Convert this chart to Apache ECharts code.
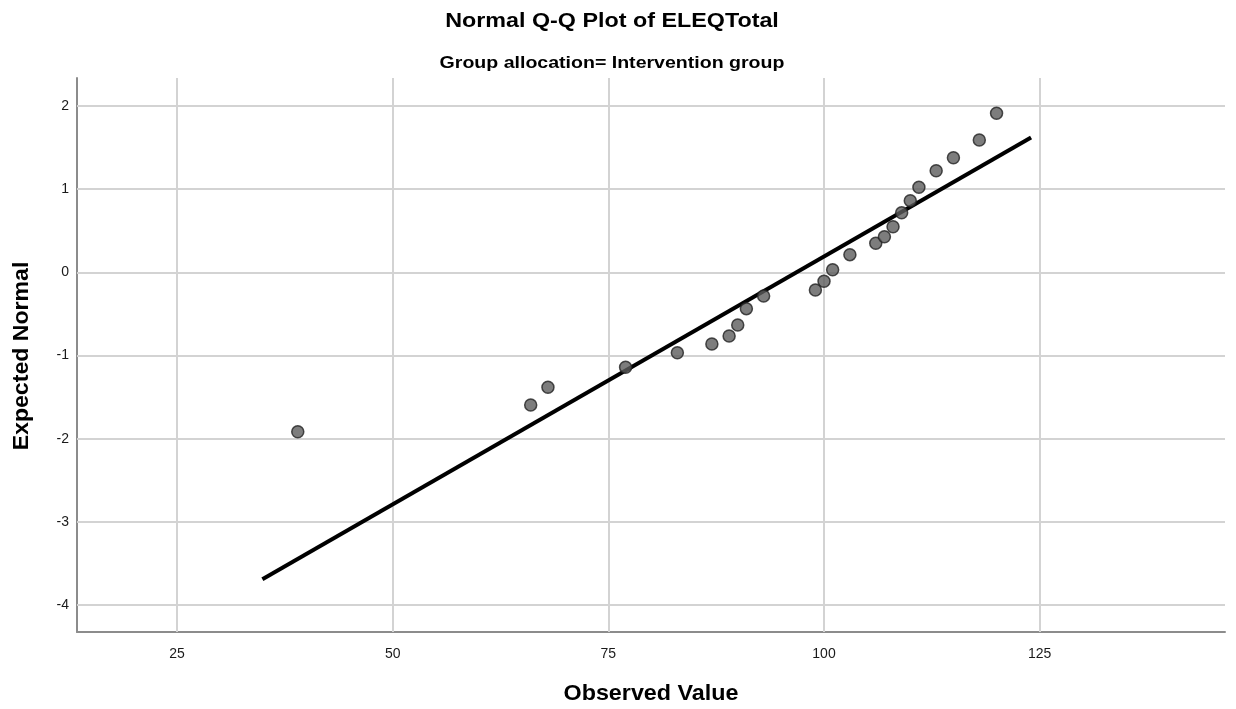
<!DOCTYPE html>
<html>
<head>
<meta charset="utf-8">
<script src="https://cdn.jsdelivr.net/npm/echarts@6/dist/echarts.min.js"></script>
<style>
  html, body { margin: 0; padding: 0; background: #ffffff; }
  #chart { width: 1236px; height: 709px; }
</style>
</head>
<body>
<div id="chart"></div>
<script>
// Observed ELEQTotal scores (sorted) and their expected normal quantiles
const observedValues = [39, 66, 68, 77, 83, 87, 89, 90, 91, 93, 99, 100, 101, 103, 106, 107, 108, 109, 110, 111, 113, 115, 118, 120];
const expectedNormal = [-1.916, -1.595, -1.382, -1.142, -0.966, -0.862, -0.766, -0.633, -0.437, -0.285, -0.213, -0.108, 0.031, 0.212, 0.349, 0.428, 0.548, 0.716, 0.861, 1.022, 1.221, 1.377, 1.590, 1.911];

// Reference normal line: z = (x - mean) / sd, drawn across this x range
const refMean = 96.8;
const refSD = 16.78;
const refLineX = [34.9, 124.0];

// Axis ticks
const xTicks = [25, 50, 75, 100, 125];
const yTicks = [-4, -3, -2, -1, 0, 1, 2];

const FONT = '"Liberation Sans", Arial, sans-serif';

const points = observedValues.map((v, i) => [v, expectedNormal[i]]);
const refLine = refLineX.map(x => [x, (x - refMean) / refSD]);

const gridStyle = { color: '#d3d3d3', width: 2, type: 'solid' };

// Bold heading texts, slightly widened
function heading(text, x, y, size, stretch, rotation) {
  return {
    type: 'text',
    x: x,
    y: y,
    rotation: rotation || 0,
    scaleX: stretch,
    silent: true,
    z: 10,
    style: {
      text: text,
      font: 'bold ' + size + 'px ' + FONT,
      fill: '#000000',
      align: 'center',
      verticalAlign: 'middle'
    }
  };
}

const chart = echarts.init(document.getElementById('chart'), null, { renderer: 'canvas' });
chart.setOption({
  backgroundColor: '#ffffff',
  animation: false,
  graphic: [
    heading('Normal Q-Q Plot of ELEQTotal', 612, 21, 21, 1.11),
    heading('Group allocation= Intervention group', 612, 63, 17, 1.15),
    heading('Observed Value', 651, 694, 22, 1.06),
    heading('Expected Normal', 22, 356, 22, 1.05, Math.PI / 2)
  ],
  grid: { left: 77, right: 11, top: 78, bottom: 77, containLabel: false },
  xAxis: {
    type: 'value',
    min: 13.41,
    max: 146.48,
    axisLine: { show: true, onZero: false, lineStyle: { color: '#8c8c8c', width: 2 } },
    axisTick: { show: false },
    splitLine: { show: false },
    axisLabel: {
      customValues: xTicks,
      margin: 15,
      fontFamily: FONT,
      fontSize: 14,
      color: '#1a1a1a'
    }
  },
  yAxis: {
    type: 'value',
    min: -4.323,
    max: 2.335,
    axisLine: { show: true, onZero: false, lineStyle: { color: '#8c8c8c', width: 2 } },
    axisTick: { show: false },
    splitLine: { show: false },
    axisLabel: {
      customValues: yTicks,
      margin: 8,
      fontFamily: FONT,
      fontSize: 14,
      color: '#1a1a1a'
    }
  },
  series: [
    {
      // grid lines at the tick values
      type: 'line',
      data: [],
      silent: true,
      z: 1,
      markLine: {
        silent: true,
        z: 1,
        symbol: ['none', 'none'],
        label: { show: false },
        lineStyle: gridStyle,
        emphasis: { disabled: true },
        animation: false,
        data: xTicks.map(v => ({ xAxis: v })).concat(yTicks.map(v => ({ yAxis: v })))
      }
    },
    {
      type: 'line',
      data: refLine,
      symbol: 'none',
      z: 3,
      lineStyle: { color: '#000000', width: 4 }
    },
    {
      type: 'scatter',
      data: points,
      symbol: 'circle',
      symbolSize: 12,
      z: 4,
      itemStyle: { color: '#5c5c5c', borderColor: '#222222', borderWidth: 1.5 }
    }
  ]
});
</script>
</body>
</html>
